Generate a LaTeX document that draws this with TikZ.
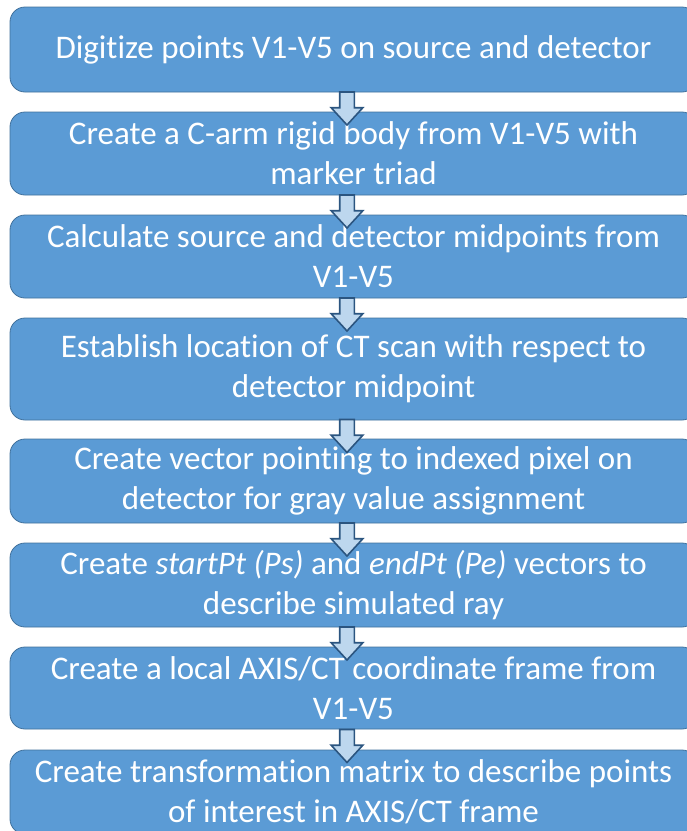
\documentclass[tikz,border=0pt]{standalone}
\usepackage{fontspec}
\setmainfont{Carlito}[Ligatures=NoCommon]
\usepackage{tikz}
\usetikzlibrary{shapes.arrows,positioning}
\definecolor{stageblue}{HTML}{5B9BD5}
\definecolor{stageedge}{HTML}{41719C}
\definecolor{arrowfill}{HTML}{BDD7EE}
\definecolor{arrowedge}{HTML}{2B5580}
\tikzset{
  stage/.style={rectangle, rounded corners=15pt, minimum width=687pt, minimum height=84pt, align=center, draw=stageedge, line width=0.8pt, fill=stageblue, text=white, font=\fontsize{33}{40}\selectfont, inner sep=0pt, outer sep=0pt},
  downarrow/.style={single arrow, shape border rotate=270, draw=arrowedge, line width=1.6pt, fill=arrowfill, minimum height=33pt, minimum width=30pt, single arrow head extend=8.5pt, single arrow tip angle=85, inner sep=6.5pt, outer sep=0pt, xshift=-6.5pt},
}

\begin{document}
\begin{tikzpicture}[node distance=20pt]
  \path[use as bounding box, clip] (0,0) rectangle (687pt,-831pt);
  \node[stage, minimum height=85pt] (digitize) at (353.5pt,-49.5pt) {Digitize points V1-V5 on source and detector};
  \node[stage, minimum height=83pt, below=of digitize] (rigid) {Create a C-arm rigid body from V1-V5 with\\marker triad};
  \node[stage, minimum height=83pt, below=of rigid] (midpts) {Calculate source and detector midpoints from\\V1-V5};
  \node[stage, minimum height=102pt, below=of midpts] (ctloc) {Establish location of CT scan with respect to\\detector midpoint};
  \node[stage, below=19pt of ctloc] (pixel) {Create vector pointing to indexed pixel on\\detector for gray value assignment};
  \node[stage, below=of pixel] (ray) {Create \textit{startPt (Ps)} and \textit{endPt (Pe)} vectors to\\describe simulated ray};
  \node[stage, minimum height=82pt, below=of ray] (frame) {Create a local AXIS/CT coordinate frame from\\V1-V5};
  \node[stage, below=21pt of frame] (matrix) {Create transformation matrix to describe points\\of interest in AXIS/CT frame};
  % arrows
  \path (digitize.south) -- node[downarrow, yshift=-2.5pt]{} (rigid.north);
  \path (rigid.south) -- node[downarrow, yshift=-2.5pt]{} (midpts.north);
  \path (midpts.south) -- node[downarrow, yshift=-2.5pt]{} (ctloc.north);
  \path (ctloc.south) -- node[downarrow, yshift=-2.5pt]{} (pixel.north);
  \path (pixel.south) -- node[downarrow, yshift=-2.5pt]{} (ray.north);
  \path (ray.south) -- node[downarrow, yshift=-2.5pt]{} (frame.north);
  \path (frame.south) -- node[downarrow, yshift=-2.5pt]{} (matrix.north);
\end{tikzpicture}
\end{document}
